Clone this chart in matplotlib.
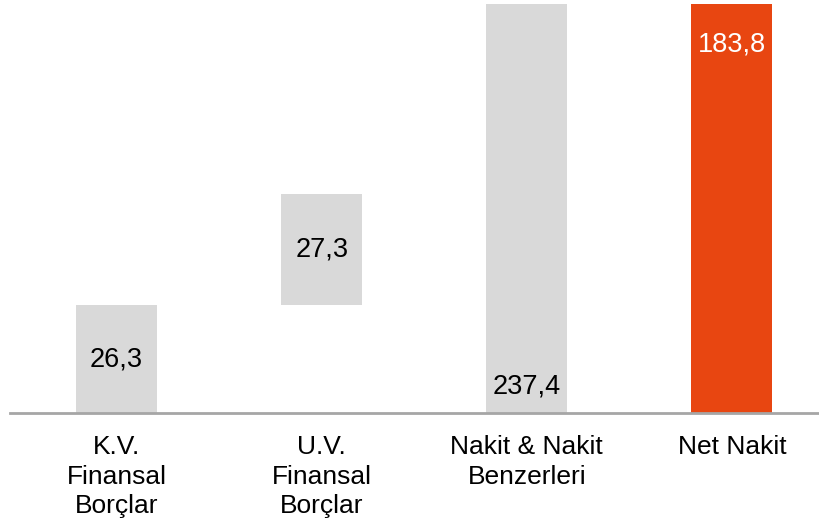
import matplotlib
matplotlib.use("Agg")
import matplotlib.pyplot as plt

categories = ["K.V.\nFinansal\nBorçlar", "U.V.\nFinansal\nBorçlar", "Nakit & Nakit\nBenzerleri", "Net Nakit"]
values = [26.3, 27.3, 237.4, 183.8]
bottoms = [0, 26.3, 0, 0]
labels = ["26,3", "27,3", "237,4", "183,8"]
colors = ["#D9D9D9", "#D9D9D9", "#D9D9D9", "#E84611"]

plt.rcParams['font.family'] = ['Liberation Sans', 'DejaVu Sans']

W, H = 820, 526
fig = plt.figure(figsize=(W/100, H/100), dpi=100)
ax = fig.add_axes([10/W, (H-413)/H, 1 - 10/W, (413-4)/H])
x = list(range(len(categories)))
ax.bar(x, values, bottom=bottoms, width=0.395, color=colors, zorder=2)
ax.set_xlim(-0.52, 3.43)
ax.set_ylim(0, 100)
ax.axhline(0, color="#A6A6A6", lw=2, zorder=3, clip_on=False)

ymax = ax.get_ylim()[1]
for i, (v, b, lab) in enumerate(zip(values, bottoms, labels)):
    top = b + v
    if top <= ymax:
        ax.text(i, b + v/2, lab, ha="center", va="center", fontsize=19.5, color="black", zorder=4)
    elif i == 2:
        ax.text(i, 6.5, lab, ha="center", va="center", fontsize=19.5, color="black", zorder=4)
    else:
        ax.text(i, 90, lab, ha="center", va="center", fontsize=19.5, color="white", zorder=4)

ax.set_xticks(x)
ax.set_xticklabels(categories, fontsize=19, linespacing=1.29, va="top")
ax.tick_params(axis="x", length=0, pad=16)
ax.set_yticks([])
for s in ax.spines.values():
    s.set_visible(False)

fig.savefig("out.png", dpi=100)
